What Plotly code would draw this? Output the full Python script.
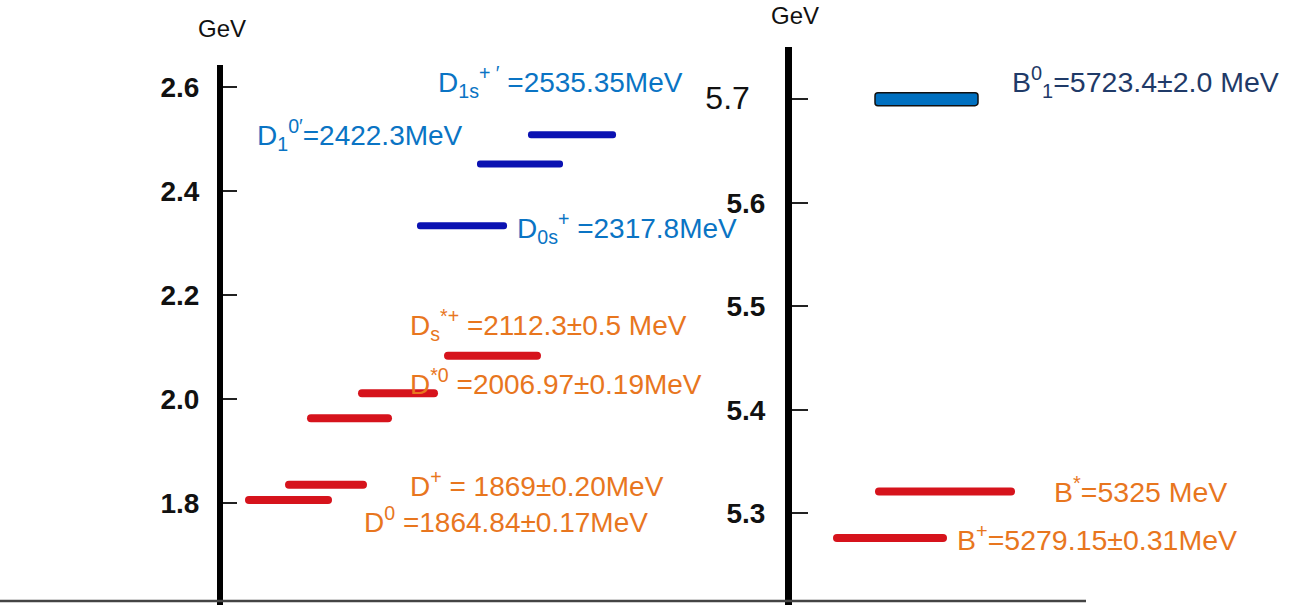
import plotly.graph_objects as go

W, H = 1301, 605

# ---------------- data ----------------
# Charm (D) mesons: drawn energy levels (GeV) on the left scale
d_levels = [1.806, 1.835, 1.963, 2.011, 2.083, 2.333, 2.452, 2.508]
d_groups = ["red", "red", "red", "red", "red", "blue", "blue", "blue"]

# Bottom (B) mesons: drawn energy levels (GeV) on the right scale
b_levels = [5.276, 5.321]
b1_level = [5.700]

left_ticks = [1.8, 2.0, 2.2, 2.4, 2.6]
left_ticktext = ["1.8", "2.0", "2.2", "2.4", "2.6"]
right_ticks = [5.3, 5.4, 5.5, 5.6, 5.7]
right_ticktext = ["5.3", "5.4", "5.5", "5.6", "5.7"]

d_labels = [
    "D<sub>1s</sub><sup>+ \u2032</sup> =2535.35MeV",
    "D<sub>1</sub><sup>0\u2032</sup>=2422.3MeV",
    "D<sub>0s</sub><sup>+</sup> =2317.8MeV",
    "D<sub>s</sub><sup>*+</sup> =2112.3\u00b10.5 MeV",
    "D<sup>*0</sup> =2006.97\u00b10.19MeV",
    "D<sup>+</sup> = 1869\u00b10.20MeV",
    "D<sup>0</sup> =1864.84\u00b10.17MeV",
]
b_labels = [
    "B<sup>0</sup><sub>1</sub>=5723.4\u00b12.0 MeV",
    "B<sup>*</sup>=5325 MeV",
    "B<sup>+</sup>=5279.15\u00b10.31MeV",
]
unit_label = "GeV"

# ---------------- layout / style (pixel placement) ----------------
d_x0 = [245, 285, 307, 358, 444, 417, 477, 528]
d_x1 = [332, 367, 392, 438, 541, 507, 563, 616]
b_x0 = [833, 875]
b_x1 = [947, 1015]
b1_x0, b1_x1 = [875], [978]

d_label_pos = [(436, 82, "blue"), (255, 135, "blue"), (515, 228, "blue"),
               (408, 325, "orange"), (408, 382, "orange"),
               (408, 484, "orange"), (362, 520, "orange")]
b_label_pos = [(1010, 82, "navy"), (1052, 490, "orange"), (955, 538, "orange")]

COL = {"red": "#d6131c", "blue": "#0b12b2", "orange": "#e8761e",
       "lblue": "#0a74c4", "navy": "#1f3a68"}
txtcol = {"blue": COL["lblue"], "orange": COL["orange"], "navy": COL["navy"]}

# left axis pixel geometry: 1.8 GeV at y=503, 520 px/GeV, axis from y=65 to 605
L_PPG, L_REFV, L_REFY, L_TOP = 520.0, 1.8, 503.0, 65.0
# right axis: 5.5 GeV at y=306, 1035 px/GeV, axis from y=47 to 605
R_PPG, R_REFV, R_REFY, R_TOP = 1035.0, 5.5, 306.2, 47.0


def rng(ppg, refv, refy, top):
    return [refv - (H - refy) / ppg, refv + (refy - top) / ppg]


def py(ypix):
    return 1 - ypix / H


fig = go.Figure()

# D meson levels
fig.add_trace(go.Bar(
    orientation="h", y=d_levels, base=d_x0,
    x=[b - a for a, b in zip(d_x0, d_x1)],
    width=[8 / L_PPG if g == "red" else 7 / L_PPG for g in d_groups],
    marker=dict(color=[COL[g] for g in d_groups], line=dict(width=0), cornerradius=4),
    xaxis="x", yaxis="y", showlegend=False, hoverinfo="skip",
))
# B meson levels (red)
fig.add_trace(go.Bar(
    orientation="h", y=b_levels, base=b_x0,
    x=[b - a for a, b in zip(b_x0, b_x1)],
    width=[8 / R_PPG] * len(b_levels),
    marker=dict(color=COL["red"], line=dict(width=0), cornerradius=4),
    xaxis="x2", yaxis="y2", showlegend=False, hoverinfo="skip",
))
# B1 level (blue, outlined)
fig.add_trace(go.Bar(
    orientation="h", y=b1_level, base=b1_x0,
    x=[b - a for a, b in zip(b1_x0, b1_x1)],
    width=[13 / R_PPG],
    marker=dict(color="#0070c0", line=dict(width=1.5, color="#111"), cornerradius=3),
    xaxis="x2", yaxis="y2", showlegend=False, hoverinfo="skip",
))

annotations = []
for txt, (x, y, c) in zip(d_labels, d_label_pos):
    annotations.append(dict(text=txt, x=x, y=py(y), xref="x", yref="paper",
                            xanchor="left", yanchor="middle", showarrow=False,
                            font=dict(family="Liberation Sans, Arial", size=28, color=txtcol[c])))
for txt, (x, y, c) in zip(b_labels, b_label_pos):
    annotations.append(dict(text=txt, x=x, y=py(y), xref="x", yref="paper",
                            xanchor="left", yanchor="middle", showarrow=False,
                            font=dict(family="Liberation Sans, Arial", size=28.5, color=txtcol[c])))
annotations.append(dict(text=unit_label, x=222, y=py(28), xref="x", yref="paper",
                        xanchor="center", yanchor="middle", showarrow=False,
                        font=dict(family="Liberation Sans, Arial", size=24, color="#111")))
annotations.append(dict(text=unit_label, x=795, y=py(15), xref="x", yref="paper",
                        xanchor="center", yanchor="middle", showarrow=False,
                        font=dict(family="Liberation Sans, Arial", size=24, color="#111")))

right_tt = []
for t in right_ticktext:
    if t == "5.7":
        right_tt.append("<span style='font-family:Liberation Sans, Arial;font-size:32px;font-weight:normal'>"
                        + t + "</span>\u00a0\u00a0")
    else:
        right_tt.append("<b>" + t + "</b>")

axis_font = dict(family="Liberation Sans, Arial", size=28, color="#111")

fig.update_layout(
    width=W, height=H, autosize=False,
    margin=dict(l=0, r=0, t=0, b=0, pad=0),
    paper_bgcolor="white", plot_bgcolor="rgba(0,0,0,0)",
    barmode="overlay", showlegend=False,
    xaxis=dict(domain=[0, 1], range=[0, W], visible=False, anchor="y", fixedrange=True),
    xaxis2=dict(domain=[0, 1], range=[0, W], visible=False, anchor="y2", fixedrange=True),
    yaxis=dict(domain=[0, (H - L_TOP) / H], range=rng(L_PPG, L_REFV, L_REFY, L_TOP),
               anchor="free", position=220 / W, side="left",
               showline=True, linecolor="black", linewidth=6,
               ticks="inside", ticklen=14, tickwidth=2, tickcolor="#222",
               tickvals=left_ticks, ticktext=["<b>" + t + "</b>" for t in left_ticktext],
               tickfont=axis_font, ticklabelstandoff=12,
               showgrid=False, zeroline=False, fixedrange=True),
    yaxis2=dict(domain=[0, (H - R_TOP) / H], range=rng(R_PPG, R_REFV, R_REFY, R_TOP),
                anchor="free", position=788 / W, side="left",
                showline=True, linecolor="black", linewidth=7,
                ticks="inside", ticklen=16, tickwidth=2, tickcolor="#222",
                tickvals=right_ticks, ticktext=right_tt,
                tickfont=axis_font, ticklabelstandoff=14,
                showgrid=False, zeroline=False, fixedrange=True),
    shapes=[dict(type="line", xref="x", yref="paper", x0=0, x1=1086,
                 y0=py(601), y1=py(601), line=dict(color="#444", width=2.5))],
    annotations=annotations,
)

fig.write_html("out.html", config={"displayModeBar": False},
               post_script="document.body.style.margin='0px';document.body.style.overflow='hidden';")
